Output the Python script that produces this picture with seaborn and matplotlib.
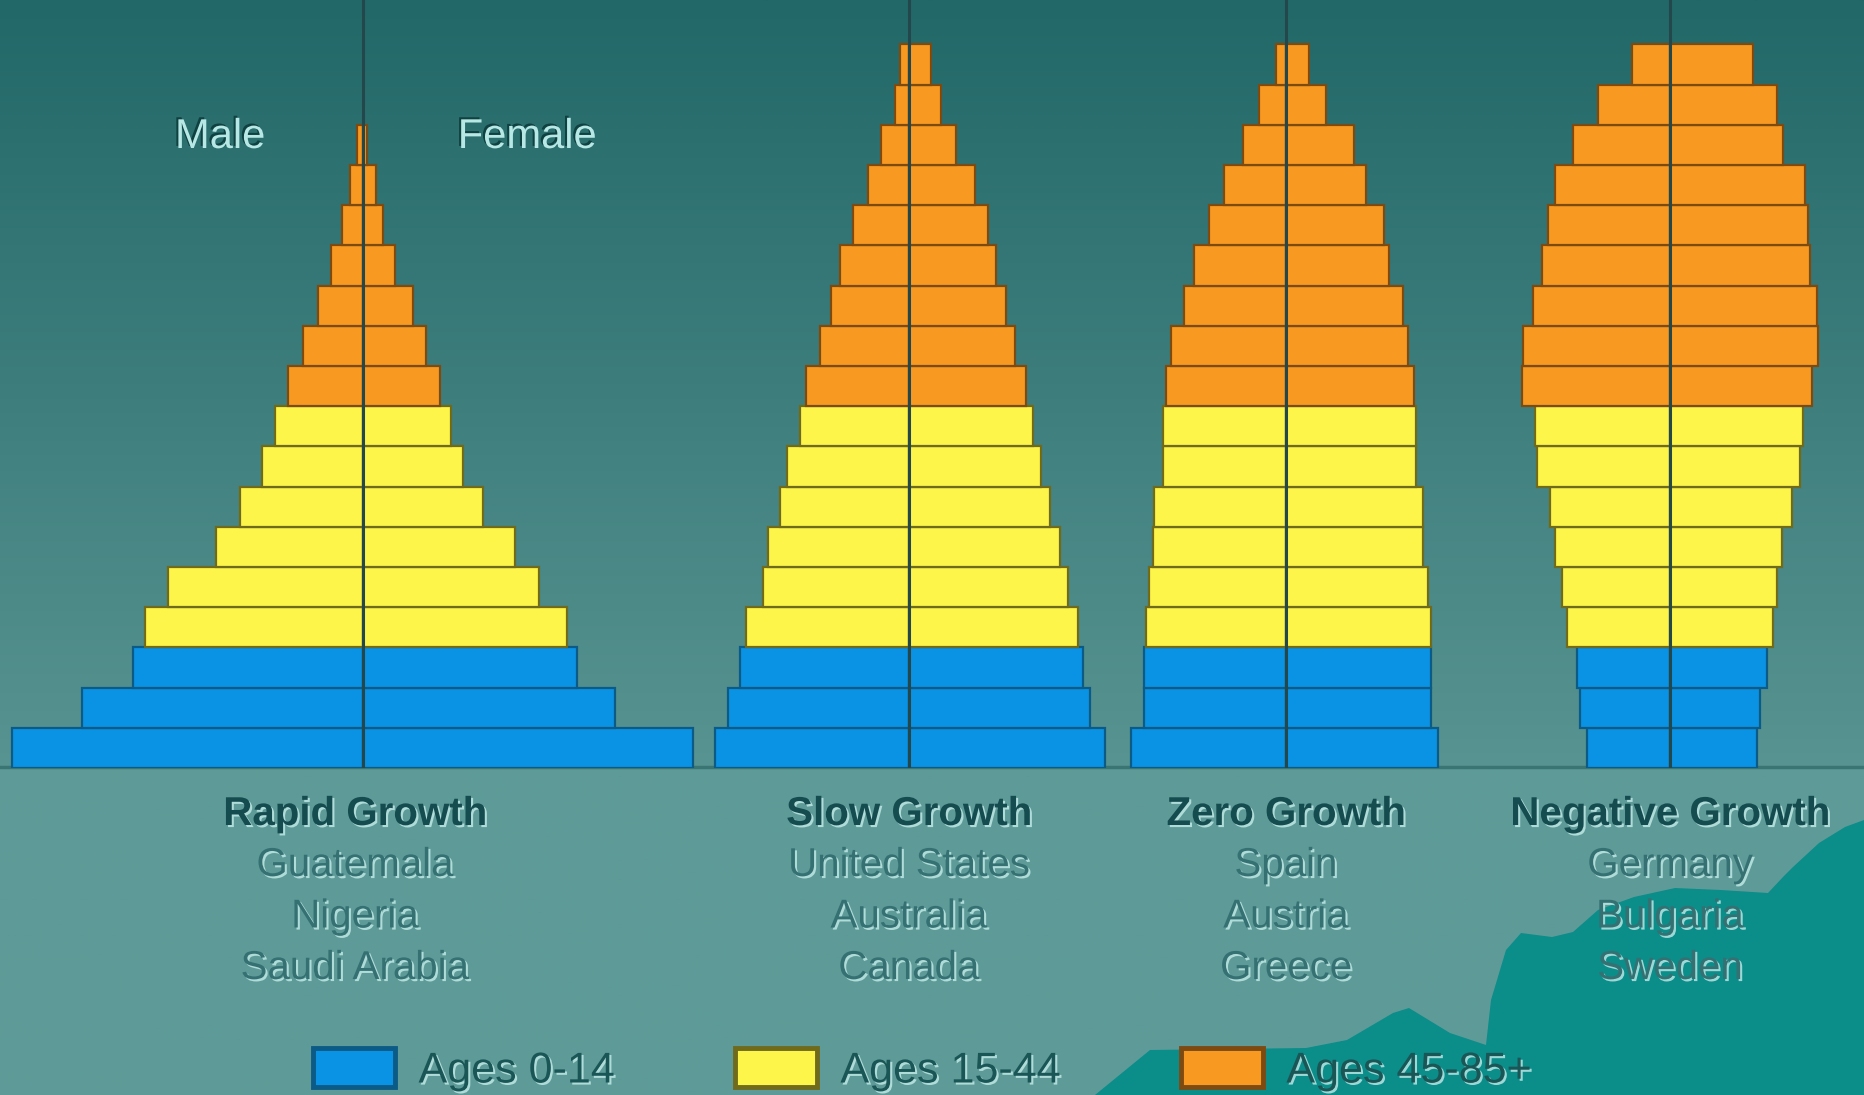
import matplotlib
matplotlib.use('Agg')
import matplotlib.pyplot as plt
import matplotlib.patheffects as pe
from matplotlib.patches import Patch, Polygon
import numpy as np
import pandas as pd
import seaborn as sns

# age groups, bottom row first
groups = ['Ages 0-14', 'Ages 15-44', 'Ages 45-85+']
row_group = ['Ages 0-14'] * 3 + ['Ages 15-44'] * 6 + ['Ages 45-85+'] * 9

# bar half-widths per row (bottom to top), male / female
rapid_male = [351, 281, 230, 218, 195, 147, 123, 101, 88, 75, 60, 45, 32, 21, 13, 6]
rapid_female = [330, 252, 214, 204, 176, 152, 120, 100, 88, 77, 63, 50, 32, 20, 13, 4]
slow_male = [194, 181, 169, 163, 146, 141, 129, 122, 109, 103, 89, 78, 69, 56, 41, 28, 14, 9]
slow_female = [196, 181, 174, 169, 159, 151, 141, 132, 124, 117, 106, 97, 87, 79, 66, 47, 32, 22]
zero_male = [155, 142, 142, 140, 137, 133, 132, 123, 123, 120, 115, 102, 92, 77, 62, 43, 27, 10]
zero_female = [152, 145, 145, 145, 142, 137, 137, 130, 130, 128, 122, 117, 103, 98, 80, 68, 40, 23]
neg_male = [83, 90, 93, 103, 108, 115, 120, 133, 135, 148, 147, 137, 128, 122, 115, 97, 72, 38]
neg_female = [87, 90, 97, 103, 107, 112, 122, 130, 133, 142, 148, 147, 140, 138, 135, 113, 107, 83]

titles = ['Rapid Growth', 'Slow Growth', 'Zero Growth', 'Negative Growth']
countries = [['Guatemala', 'Nigeria', 'Saudi Arabia'],
             ['United States', 'Australia', 'Canada'],
             ['Spain', 'Austria', 'Greece'],
             ['Germany', 'Bulgaria', 'Sweden']]

pyramids = [(rapid_male, rapid_female), (slow_male, slow_female),
            (zero_male, zero_female), (neg_male, neg_female)]

colors = {'Ages 0-14': '#0a93e4', 'Ages 15-44': '#fdf54a', 'Ages 45-85+': '#f89a22'}
edges = {'Ages 0-14': '#0c5a86', 'Ages 15-44': '#6f6a1c', 'Ages 45-85+': '#7d4a12'}

W, H = 1864, 1095
centers = [363, 909, 1286, 1670]
base_y = 768
row_h = 40.2
half = 400

sns.set_style('white')
plt.rcParams['font.family'] = ['Liberation Sans', 'DejaVu Sans']

fig = plt.figure(figsize=(W / 100, H / 100), dpi=100)

# background
bg = fig.add_axes([0, 0, 1, 1])
top = np.array([34, 104, 104]) / 255
mid = np.array([88, 148, 145]) / 255
low = np.array([94, 155, 152]) / 255
yy = np.linspace(0, 1, 400)[:, None]
grad = np.where(yy < base_y / H, top + (mid - top) * (yy / (base_y / H)), low)
bg.imshow(grad[:, None, :].repeat(2, axis=1), extent=[0, W, H, 0], aspect='auto', zorder=0)
wave = [(1095, 1095), (1150, 1050), (1306, 1048), (1347, 1040), (1393, 1013), (1409, 1008),
        (1450, 1033), (1486, 1045), (1491, 1000), (1506, 950), (1521, 933), (1552, 937),
        (1573, 932), (1598, 910), (1634, 897), (1675, 888), (1721, 890), (1768, 893),
        (1783, 877), (1793, 867), (1819, 843), (1845, 827), (1864, 820), (1864, 1095)]
bg.add_patch(Polygon(wave, closed=True, facecolor='#0b8d8a', edgecolor='none', zorder=1))
bg.plot([0, W], [base_y - 1, base_y - 1], color='#3b7573', lw=2.5, zorder=2)
bg.set_xlim(0, W)
bg.set_ylim(H, 0)
bg.axis('off')

light = [pe.SimplePatchShadow(offset=(1.5, -1.5), shadow_rgbFace='#c4ecea', alpha=0.8), pe.Normal()]
dark = [pe.SimplePatchShadow(offset=(-1.5, 1.5), shadow_rgbFace='#0d3c3c', alpha=0.9), pe.Normal()]

bg.text(220, 137, 'Male', fontsize=30, color='#b8e8e6', ha='center', va='center', path_effects=dark)
bg.text(527, 137, 'Female', fontsize=30, color='#b8e8e6', ha='center', va='center', path_effects=dark)

for cx, title, names in zip(centers, titles, countries):
    tx = cx - 8 if title == 'Rapid Growth' else cx
    bg.text(tx, 814, title, fontsize=29, fontweight='bold',
            color='#154c4f', ha='center', va='center', path_effects=light)
    for i, name in enumerate(names):
        bg.text(tx, 865 + i * 51.5, name, fontsize=29,
                color='#357172', ha='center', va='center', path_effects=light)

# pyramids
for cx, (male, female) in zip(centers, pyramids):
    ax = fig.add_axes([(cx - half) / W, (H - base_y) / H, 2 * half / W, base_y / H])
    ax.patch.set_alpha(0)
    n = len(male)
    df = pd.DataFrame({'row': np.arange(n), 'male': -np.array(male, float),
                       'female': np.array(female, float), 'group': row_group[:n]})
    for g in groups:
        sub = df[df['group'] == g]
        for side in ['male', 'female']:
            sns.barplot(data=sub, x=side, y='row', orient='h', native_scale=True, width=1.0,
                        color=colors[g], edgecolor=edges[g], linewidth=1.6, saturation=1,
                        errorbar=None, ax=ax, zorder=3)
    ax.axvline(0, color='#24474c', lw=2.2, zorder=5)
    ax.set_xlim(-half, half)
    ax.set_ylim(-0.5, -0.5 + base_y / row_h)
    ax.axis('off')

handles = [Patch(facecolor=colors[g], edgecolor=edges[g], linewidth=3.5, label=g) for g in groups]
leg = fig.legend(handles=handles, loc='center left', bbox_to_anchor=(313 / W, 1 - 1070 / H),
                 ncol=3, frameon=False, fontsize=31, handlelength=1.9, handleheight=1.0,
                 handletextpad=0.55, columnspacing=2.8, borderpad=0, borderaxespad=0)
for t in leg.get_texts():
    t.set_color('#1a5656')
    t.set_path_effects(light)

fig.savefig('out.png', dpi=100)
